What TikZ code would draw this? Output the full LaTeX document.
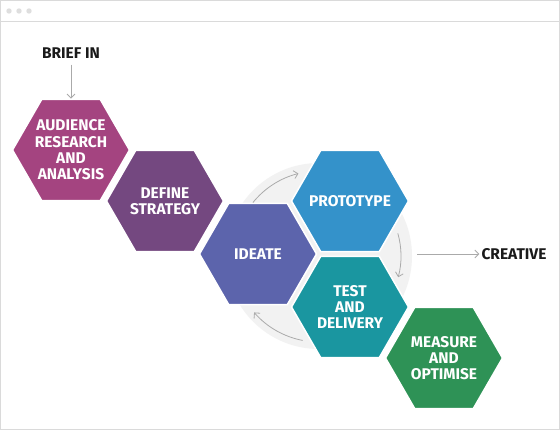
\documentclass[tikz,border=0pt]{standalone}
\usepackage{fontspec}
\setmainfont{Fira Sans}
\usetikzlibrary{shapes.geometric,arrows.meta}
\definecolor{cAud}{RGB}{164,68,128}
\definecolor{cDef}{RGB}{116,72,128}
\definecolor{cIde}{RGB}{92,100,172}
\definecolor{cPro}{RGB}{52,146,202}
\definecolor{cTes}{RGB}{26,150,160}
\definecolor{cMea}{RGB}{46,146,86}
\definecolor{cFrame}{RGB}{218,218,218}
\definecolor{cDot}{RGB}{222,222,222}
\definecolor{cCirc}{RGB}{242,242,242}
\definecolor{cArr}{RGB}{170,170,170}
\definecolor{cTxt}{RGB}{26,26,26}
\begin{document}
\begin{tikzpicture}[x=1pt,y=1pt,
  hex/.style={regular polygon, regular polygon sides=6, minimum size=117pt, inner sep=0pt,
    draw=white, line width=1.5pt},
  hextext/.style={text=white, align=center, inner sep=0pt,
    font=\bfseries\fontsize{15.5}{16.3}\selectfont},
  lbl/.style={text=cTxt, font=\bfseries\fontsize{15.5}{16.3}\selectfont, inner sep=2pt},
  garrow/.style={draw=cArr, line width=0.8pt, -{Straight Barb[length=4pt,width=8pt]}}]
\useasboundingbox (0,0) rectangle (560,-430);
% frame
\fill[white] (0,0) rectangle (560,-430);
\draw[cFrame, line width=1pt] (0.5,-0.5) rectangle (559.5,-429.5);
\draw[cFrame, line width=1pt] (0.5,-21.5) -- (559.5,-21.5);
\foreach \x in {9,19,29} \fill[cDot] (\x,-11) circle (2.7);
% background circle
\coordinate (cc) at (319,-256);
\fill[cCirc] (cc) circle (93);
% hexagons
\node[hex, fill=cAud] (aud) at (71,-150) {};
\node[hex, fill=cDef] (def) at (165,-201) {};
\node[hex, fill=cIde] (ide) at (258,-254) {};
\node[hex, fill=cPro] (pro) at (350,-201) {};
\node[hex, fill=cTes] (tes) at (350,-307) {};
\node[hex, fill=cMea] (mea) at (444,-358) {};
\node[hextext] (audt) at (aud.center) {AUDIENCE\\RESEARCH\\AND\\ANALYSIS};
\node[hextext] (deft) at (def.center) {DEFINE\\STRATEGY};
\node[hextext] (idet) at (ide.center) {IDEATE};
\node[hextext] (prot) at (pro.center) {PROTOTYPE};
\node[hextext] (test) at (tes.center) {TEST\\AND\\DELIVERY};
\node[hextext] (meat) at (mea.center) {MEASURE\\AND\\OPTIMISE};
% cycle arrows
\draw[garrow] ([shift={(141:85)}]cc) arc[start angle=141, end angle=104, radius=85];
\draw[garrow] ([shift={(16:82)}]cc) arc[start angle=16, end angle=-15, radius=82];
\draw[garrow] ([shift={(-101:86)}]cc) arc[start angle=-101, end angle=-139, radius=86];
% in / out
\node[lbl] (brief) at (71,-53) {BRIEF IN};
\node[lbl] (creative) at (514,-254) {CREATIVE};
\coordinate (cstart) at (417,-254);
\draw[garrow] (brief.south) ++(0,-4) -- (aud.north);
\draw[garrow] (cstart) -- (creative.west);
\end{tikzpicture}
\end{document}
